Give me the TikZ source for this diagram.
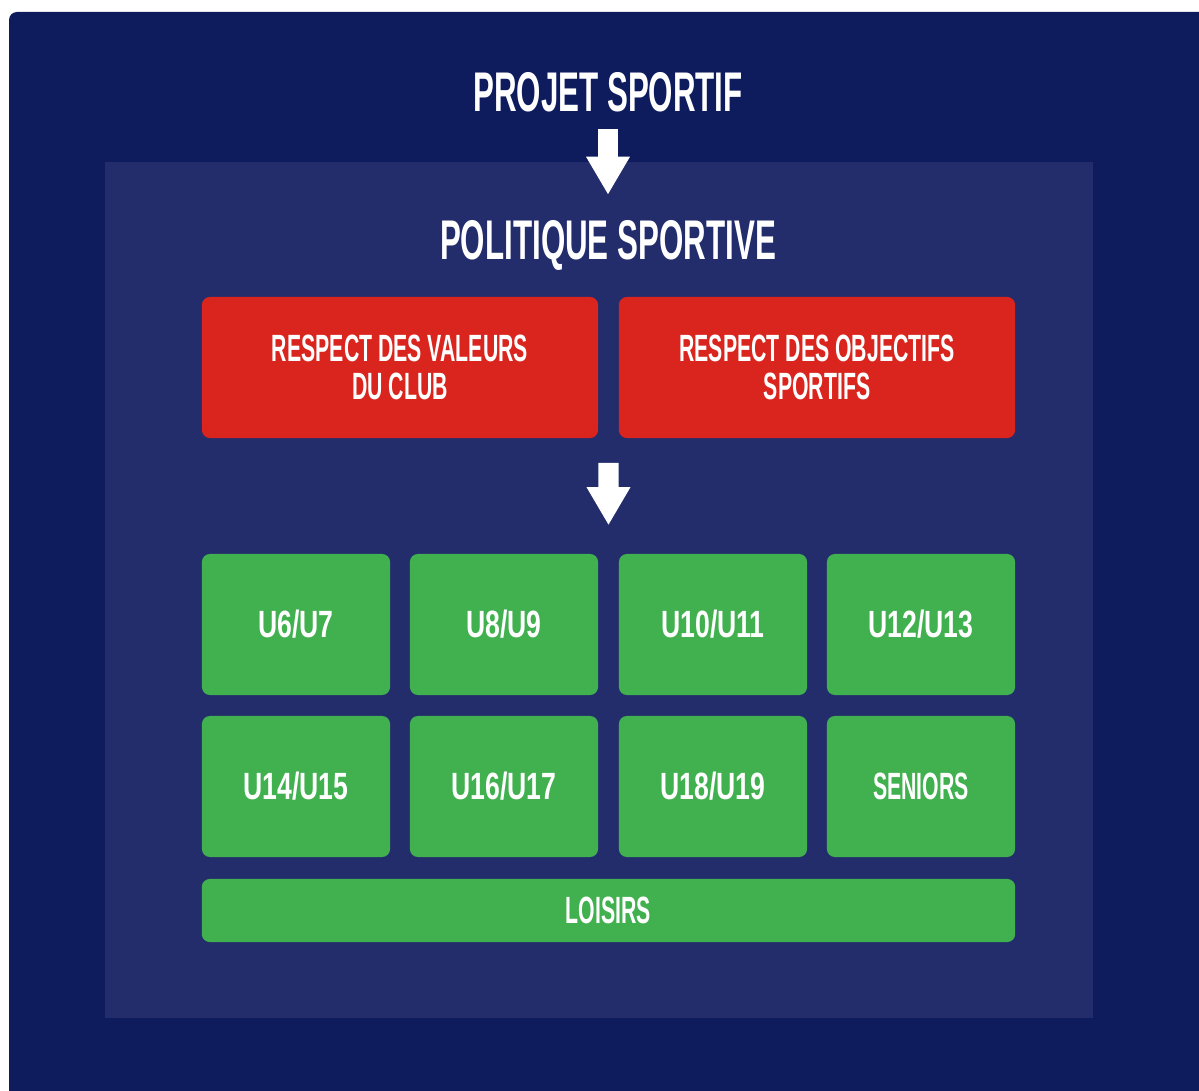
\documentclass[tikz,border=0pt]{standalone}
\usepackage{fontspec}
\setmainfont[FakeStretch=0.56]{Liberation Sans}
\newfontfamily\chiffres[FakeStretch=0.7]{Liberation Sans}
\usetikzlibrary{arrows.meta,calc}

\definecolor{fond}{RGB}{14,28,94}
\definecolor{cadre}{RGB}{35,45,107}
\definecolor{rouge}{RGB}{217,37,29}
\definecolor{vert}{RGB}{64,177,78}

\begin{document}
\begin{tikzpicture}[x=0.01cm,y=-0.01cm,
  titre/.style={text=white,inner sep=0pt,text depth=0pt,font=\bfseries\fontsize{15.9}{15.9}\selectfont},
  valeur/.style={fill=rouge,rounded corners=0.08cm,text=white,align=center,inner sep=0pt,
    minimum width=3.96cm,minimum height=1.41cm,font=\bfseries\fontsize{10.8}{10.8}\selectfont},
  equipe/.style={fill=vert,rounded corners=0.08cm,text=white,inner sep=0pt,
    minimum width=1.88cm,minimum height=1.41cm,font=\bfseries\fontsize{10.8}{10.8}\selectfont},
  age/.style={equipe,font=\chiffres\bfseries\fontsize{10.8}{10.8}\selectfont},
  fleche/.style={draw=white,line width=0.2cm,-{Triangle[width=0.41cm,length=0.38cm]}}]
  \useasboundingbox (0,0) rectangle (1199,1091);
  \fill[white] (0,0) rectangle (1199,1091);
  \begin{scope}
    \clip (0,0) rectangle (1199,1091);
    \fill[fond, rounded corners=0.08cm] (9,12) rectangle (1230,1120);
  \end{scope}
  \fill[cadre] (105,162) rectangle (1093,1018);

  \node[titre] (projet) at (608,92) {PROJET SPORTIF};
  \node[titre] (politique) at (608,240) {POLITIQUE SPORTIVE};
  \draw[fleche, shorten <=0.17cm, shorten >=0.25cm] (projet.south) -- (politique.north);

  \node[valeur] (valeurs) at (400,367.5) {RESPECT DES VALEURS\\DU CLUB};
  \node[valeur] (objectifs) at (817,367.5) {RESPECT DES OBJECTIFS\\SPORTIFS};

  \node[age] (u6) at (296,624.5) {U6/U7};
  \node[age] (u8) at (504,624.5) {U8/U9};
  \node[age] (u10) at (713,624.5) {U10/U11};
  \node[age] (u12) at (921,624.5) {U12/U13};
  \node[age] (u14) at (296,786.5) {U14/U15};
  \node[age] (u16) at (504,786.5) {U16/U17};
  \node[age] (u18) at (713,786.5) {U18/U19};
  \node[equipe] (seniors) at (921,786.5) {SENIORS};
  \node[equipe, minimum width=8.13cm, minimum height=0.63cm] (loisirs) at (608.5,910.5) {LOISIRS};

  \coordinate (rouges) at ($(valeurs.south east)!0.5!(objectifs.south west)$);
  \coordinate (verts) at ($(u8.north east)!0.5!(u10.north west)$);
  \draw[fleche, shorten <=0.24cm, shorten >=0.28cm] (rouges) -- (verts);
\end{tikzpicture}
\end{document}
